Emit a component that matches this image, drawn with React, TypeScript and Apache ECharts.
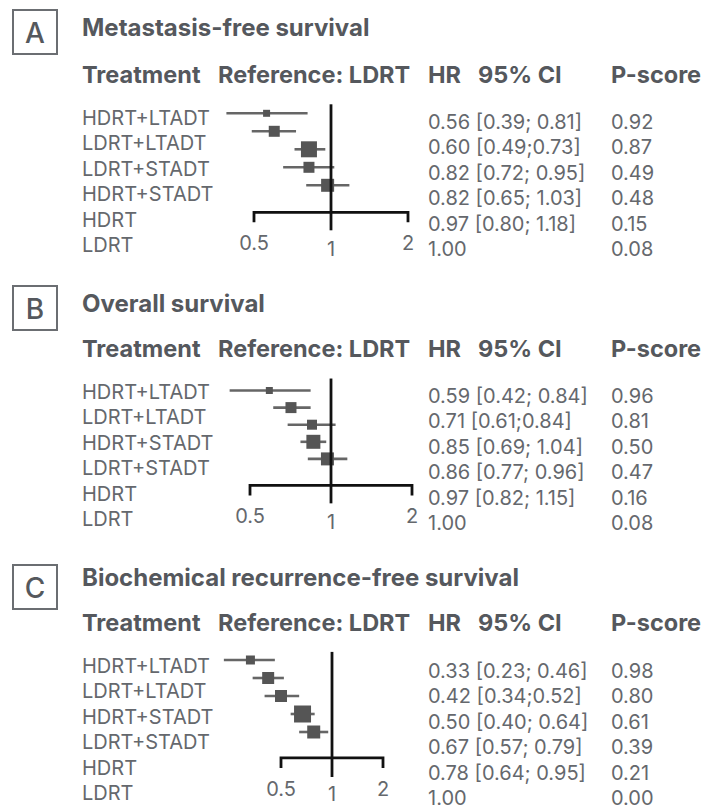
import React, { useEffect, useRef } from "react";
import * as echarts from "echarts";

// ---------- data ----------
const panelLetters = ["A", "B", "C"];
const panelTitles = [
  "Metastasis-free survival",
  "Overall survival",
  "Biochemical recurrence-free survival",
];
const headerTexts = ["Treatment", "Reference: LDRT", "HR", "95% CI", "P-score"];

const treatmentsA = ["HDRT+LTADT", "LDRT+LTADT", "LDRT+STADT", "HDRT+STADT", "HDRT", "LDRT"];
const hrA = [0.56, 0.6, 0.82, 0.82, 0.97, 1.0];
const loA = [0.39, 0.49, 0.72, 0.65, 0.8];
const hiA = [0.81, 0.73, 0.95, 1.03, 1.18];
const ciA = ["[0.39; 0.81]", "[0.49;0.73]", "[0.72; 0.95]", "[0.65; 1.03]", "[0.80; 1.18]", ""];
const pA = [0.92, 0.87, 0.49, 0.48, 0.15, 0.08];
const weightA = [7, 11, 16, 11, 13];

const treatmentsB = ["HDRT+LTADT", "LDRT+LTADT", "HDRT+STADT", "LDRT+STADT", "HDRT", "LDRT"];
const hrB = [0.59, 0.71, 0.85, 0.86, 0.97, 1.0];
const loB = [0.42, 0.61, 0.69, 0.77, 0.82];
const hiB = [0.84, 0.84, 1.04, 0.96, 1.15];
const ciB = ["[0.42; 0.84]", "[0.61;0.84]", "[0.69; 1.04]", "[0.77; 0.96]", "[0.82; 1.15]", ""];
const pB = [0.96, 0.81, 0.5, 0.47, 0.16, 0.08];
const weightB = [7, 11, 10, 14, 13];

const treatmentsC = ["HDRT+LTADT", "LDRT+LTADT", "HDRT+STADT", "LDRT+STADT", "HDRT", "LDRT"];
const hrC = [0.33, 0.42, 0.5, 0.67, 0.78, 1.0];
const loC = [0.23, 0.34, 0.4, 0.57, 0.64];
const hiC = [0.46, 0.52, 0.64, 0.79, 0.95];
const ciC = ["[0.23; 0.46]", "[0.34;0.52]", "[0.40; 0.64]", "[0.57; 0.79]", "[0.64; 0.95]", ""];
const pC = [0.98, 0.8, 0.61, 0.39, 0.21, 0.0];
const weightC = [9, 12, 12, 17, 13];

const tickValues = [0.5, 1, 2];
const tickLabels = ["0.5", "1", "2"];

// ---------- layout / style ----------
const FONT = "Inter, 'Noto Sans', sans-serif";
const TEXT = "#65686d";
const DARK = "#55585d";
const ROW = 25.4;
const colX = [82, 218, 428, 478, 611];

const panels = [
  { t: treatmentsA, hr: hrA, lo: loA, hi: hiA, ci: ciA, p: pA, w: weightA,
    box: 10, title: 27, header: 74, label: 118, right: 122,
    mTop: 113.3, mGap: 18, lineTop: 0.5, axisRow: 6.5, lineBottom: 7.5, c: 331, s: 77 },
  { t: treatmentsB, hr: hrB, lo: loB, hi: hiB, ci: ciB, p: pB, w: weightB,
    box: 286, title: 303, header: 348, label: 392, right: 396,
    mTop: 390.5, mGap: 17.1, lineTop: 0.3, axisRow: 6.55, lineBottom: 7.6, c: 331, s: 81 },
  { t: treatmentsC, hr: hrC, lo: loC, hi: hiC, ci: ciC, p: pC, w: weightC,
    box: 565, title: 577, header: 622, label: 666, right: 671,
    mTop: 660, mGap: 18, lineTop: 0.55, axisRow: 6.44, lineBottom: 7.5, c: 332, s: 51 },
];

const XMIN = -3;
const XMAX = 2;
const YMAX = 8;

function txt(text: string, x: number, y: number, size: number, weight: any, fill: string, align = "left") {
  return {
    type: "text",
    x,
    y,
    silent: true,
    style: {
      text,
      fill,
      font: `${weight} ${size}px ${FONT}`,
      fontFamily: FONT,
      fontSize: size,
      fontWeight: weight,
      align,
      verticalAlign: "middle",
      textAlign: align,
      textVerticalAlign: "middle",
    },
  };
}

function buildOption() {
  const grid: any[] = [];
  const xAxis: any[] = [];
  const yAxis: any[] = [];
  const series: any[] = [];
  const graphic: any[] = [];

  panels.forEach((pn, k) => {
    grid.push({
      left: pn.c + XMIN * pn.s,
      width: (XMAX - XMIN) * pn.s,
      top: pn.mTop - pn.mGap,
      height: YMAX * pn.mGap,
      containLabel: false,
    });
    xAxis.push({ type: "value", gridIndex: k, min: XMIN, max: XMAX, show: false, splitLine: { show: false } });
    yAxis.push({ type: "value", gridIndex: k, min: 0, max: YMAX, inverse: true, show: false, splitLine: { show: false } });

    // forest marks
    const forestData = pn.lo.map((lo, i) => [
      Math.log2(pn.hr[i]),
      Math.log2(lo),
      Math.log2(pn.hi[i]),
      i + 1,
      pn.w[i],
    ]);
    series.push({
      type: "custom",
      xAxisIndex: k,
      yAxisIndex: k,
      clip: false,
      silent: true,
      encode: { x: [0, 1, 2], y: 3 },
      data: forestData,
      renderItem: (params: any, api: any) => {
        const est = api.value(0);
        const lo = api.value(1);
        const hi = api.value(2);
        const row = api.value(3);
        const size = api.value(4);
        const a = api.coord([lo, row]);
        const b = api.coord([hi, row]);
        const e = api.coord([est, row]);
        return {
          type: "group",
          children: [
            { type: "line", shape: { x1: a[0], y1: a[1], x2: b[0], y2: b[1] }, style: { stroke: "#666666", lineWidth: 2.6 } },
            { type: "rect", shape: { x: e[0] - size / 2, y: e[1] - size / 2, width: size, height: size }, style: { fill: "#555555" } },
          ],
        };
      },
    });

    // axis, ticks, reference line
    const tickData = tickValues.map((v, i) => [Math.log2(v), i]);
    const minT = Math.log2(Math.min(...tickValues));
    const maxT = Math.log2(Math.max(...tickValues));
    series.push({
      type: "custom",
      xAxisIndex: k,
      yAxisIndex: k,
      clip: false,
      silent: true,
      encode: { x: 0 },
      data: tickData,
      renderItem: (params: any, api: any) => {
        const xv = api.value(0);
        const idx = params.dataIndex;
        const isRef = tickValues[idx] === 1;
        const pAxis = api.coord([xv, pn.axisRow]);
        const children: any[] = [];
        if (idx === 0) {
          const l = api.coord([minT, pn.axisRow]);
          const r = api.coord([maxT, pn.axisRow]);
          children.push({
            type: "polyline",
            shape: { points: [[l[0], l[1] + 10], [l[0], l[1]], [r[0], r[1]], [r[0], r[1] + 10]] },
            style: { stroke: "#111111", lineWidth: 2.8, fill: "none" },
          });
        }
        if (isRef) {
          const t = api.coord([xv, pn.lineTop]);
          const b = api.coord([xv, pn.lineBottom]);
          children.push({ type: "line", shape: { x1: t[0], y1: t[1], x2: b[0], y2: b[1] }, style: { stroke: "#111111", lineWidth: 2.8 } });
        }
        children.push(txt(tickLabels[idx], pAxis[0], pAxis[1] + (isRef ? 36.5 : 31), 20, "normal", TEXT, "center"));
        return { type: "group", children };
      },
    });

    // texts
    graphic.push({
      type: "rect",
      silent: true,
      shape: { x: 13, y: pn.box, width: 44, height: 44 },
      style: { fill: "none", stroke: "#6b6e72", lineWidth: 2 },
    });
    graphic.push(txt(panelLetters[k], 35, pn.box + 23, 28, 500, DARK, "center"));
    graphic.push(txt(panelTitles[k], 82, pn.title, 24, "bold", DARK));
    headerTexts.forEach((h, j) => graphic.push(txt(h, colX[j], pn.header, 23.5, "bold", DARK)));
    pn.t.forEach((name, i) => {
      graphic.push(txt(name, 82, pn.label + i * ROW, 20, "normal", TEXT));
      const hrTxt = pn.hr[i].toFixed(2) + (pn.ci[i] ? " " + pn.ci[i] : "");
      graphic.push(txt(hrTxt, colX[2], pn.right + i * ROW, 20, "normal", TEXT));
      graphic.push(txt(pn.p[i].toFixed(2), colX[4], pn.right + i * ROW, 20, "normal", TEXT));
    });
  });

  return {
    animation: false,
    backgroundColor: "#ffffff",
    grid,
    xAxis,
    yAxis,
    series,
    graphic: { elements: graphic },
  };
}

export default function App() {
  const ref = useRef<HTMLDivElement>(null);
  useEffect(() => {
    if (!ref.current) return;
    const chart = echarts.init(ref.current, null, { renderer: "svg" });
    chart.setOption(buildOption() as any);
    return () => chart.dispose();
  }, []);
  return (
    <div
      ref={ref}
      style={{ position: "fixed", left: 0, top: 0, width: 703, height: 810, background: "#fff" }}
    />
  );
}
